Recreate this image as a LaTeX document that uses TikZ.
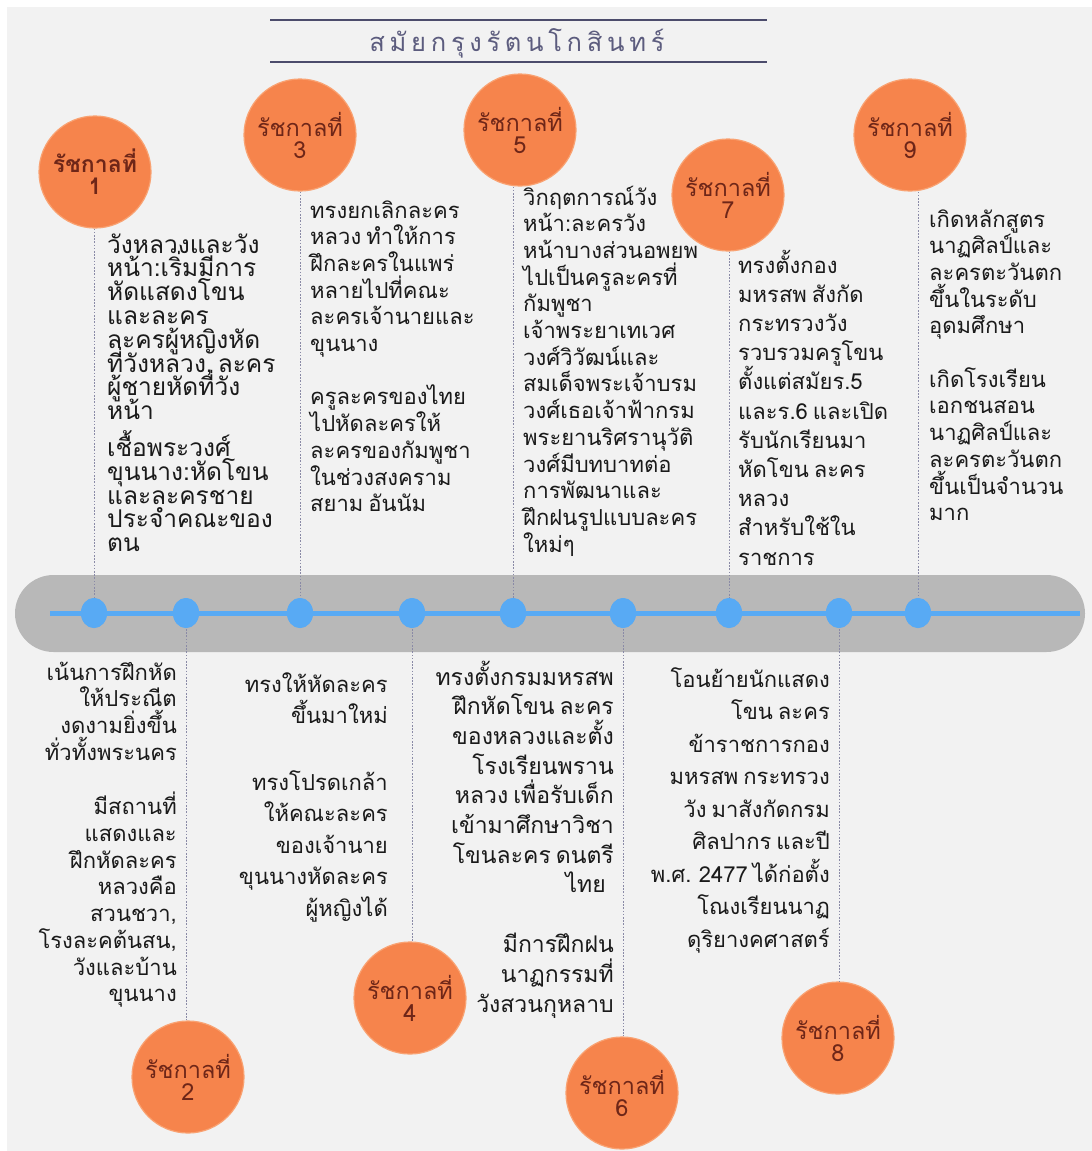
\documentclass[tikz,border=0pt]{standalone}
\usepackage{fontspec}
\newfontfamily\thaifont[Script=Thai]{Loma}
\usetikzlibrary{shapes.geometric}

\definecolor{pagebg}{HTML}{F2F2F2}
\definecolor{titleink}{HTML}{5C5C7E}
\definecolor{rulecol}{HTML}{4C4C6C}
\definecolor{barcol}{HTML}{B8B8B8}
\definecolor{linecol}{HTML}{58AAF4}
\definecolor{reignfill}{HTML}{F6844C}
\definecolor{reignedge}{HTML}{F9A272}
\definecolor{reignink}{HTML}{6E2618}
\definecolor{guidecol}{HTML}{8A8AA6}
\definecolor{bodyink}{HTML}{1A1A1A}

% stacked lines with a fixed baseline distance and narrow word spaces;
% the box baseline is the first line
\newcommand\leftlines[2]{\vtop{\baselineskip=#1\lineskiplimit=-100pt\lineskip=0pt
  \spaceskip=5pt plus 1pt\relax\halign{##\hfil\cr#2\crcr}}}
\newcommand\rightlines[2]{\vtop{\baselineskip=#1\lineskiplimit=-100pt\lineskip=0pt
  \spaceskip=5pt plus 1pt\relax\halign{\hfil##\cr#2\crcr}}}
\newcommand\pgap[1]{\noalign{\vskip#1}}
\newcommand\tsp{\hskip 4.7pt}

\tikzset{
  reign/.style={circle, fill=reignfill, draw=reignedge, line width=1.2pt,
    minimum size=112pt, inner sep=0pt, text=reignink, align=center,
    font=\thaifont\fontsize{23.5}{22}\selectfont},
  tdot/.style={ellipse, fill=linecol, minimum width=26pt, minimum height=30pt, inner sep=0pt},
  guide/.style={draw=guidecol, line width=0.9pt, dash pattern=on 1.6pt off 1.6pt},
  note/.style={inner sep=0pt, text=bodyink, font=\thaifont\fontsize{22}{26}\selectfont},
  bignote/.style={inner sep=0pt, text=bodyink, font=\thaifont\fontsize{24.5}{26}\selectfont},
  midnote/.style={inner sep=0pt, text=bodyink, font=\thaifont\fontsize{23}{26}\selectfont},
  rulestyle/.style={draw=rulecol, line width=2pt},
}

\begin{document}
\begin{tikzpicture}[x=1pt,y=-1pt]
  % page
  \fill[white] (0,0) rectangle (1092,1151);
  \fill[pagebg] (7,7) rectangle (1092,1151);
  \useasboundingbox (0,0) rectangle (1092,1151);

  % heading between two rules
  \draw[rulestyle] (270,20) -- (767,20);
  \draw[rulestyle] (270,62) -- (767,62);
  \node[inner sep=0pt, text=titleink, font=\thaifont\fontsize{25.5}{30}\selectfont, anchor=base]
    (title) at (517,51) {ส\tsp มั\tsp ย\tsp ก\tsp รุ\tsp ง\tsp รั\tsp ต\tsp น\tsp โ\tsp ก\tsp สิ\tsp น\tsp ท\tsp ร์};

  % time line bar
  \fill[barcol, rounded corners=38.5pt] (15,575) rectangle (1085,652);
  \coordinate (tlstart) at (50,613);
  \coordinate (tlend) at (1080,613);
  \draw[linecol, line width=5pt] (tlstart) -- (tlend);

  % stops on the time line
  \node[tdot] (d1) at (94,613) {};
  \node[tdot] (d2) at (186,613) {};
  \node[tdot] (d3) at (300,613) {};
  \node[tdot] (d4) at (412,613) {};
  \node[tdot] (d5) at (513,613) {};
  \node[tdot] (d6) at (623,613) {};
  \node[tdot] (d7) at (729,613) {};
  \node[tdot] (d8) at (839,613) {};
  \node[tdot] (d9) at (918,613) {};

  % reign badges
  \node[reign, font=\thaifont\bfseries\fontsize{23}{22}\selectfont] (r1) at (95,172) {รัชกาลที่\\1};
  \node[reign] (r3) at (300,135) {รัชกาลที่\\3};
  \node[reign] (r5) at (520,130) {รัชกาลที่\\5};
  \node[reign] (r7) at (728,195) {รัชกาลที่\\7};
  \node[reign] (r9) at (910,135) {รัชกาลที่\\9};
  \node[reign] (r2) at (188,1077) {รัชกาลที่\\2};
  \node[reign] (r4) at (410,998) {รัชกาลที่\\4};
  \node[reign] (r6) at (622,1093) {รัชกาลที่\\6};
  \node[reign] (r8) at (838,1038) {รัชกาลที่\\8};

  % dotted leaders from badges to stops
  \foreach \k in {1,3,5,7,9}{
    \draw[guide] (d\k |- r\k.south) -- (d\k.center);
  }
  \foreach \k in {2,4,6,8}{
    \draw[guide] (d\k.center) -- (d\k |- r\k.north);
  }
  % stops drawn again over the leaders
  \foreach \k/\x in {1/94,2/186,3/300,4/412,5/513,6/623,7/729,8/839,9/918}{
    \fill[linecol] (\x,613) ellipse (13pt and 15pt);
  }

  % notes above the line
  \node[bignote, anchor=base west] (n1) at (107,253) {\leftlines{23.8pt}{%
    วังหลวงและวัง\cr หน้า:เริ่มมีการ\cr หัดแสดงโขน\cr และละคร\cr ละครผู้หญิงหัด\cr
    ที่วังหลวง, ละคร\cr ผู้ชายหัดที่วัง\cr หน้า\cr \pgap{13pt}
    เชื้อพระวงศ์\cr ขุนนาง:หัดโขน\cr และละครชาย\cr ประจำคณะของ\cr ตน}};
  \node[note, anchor=base west] (n3) at (310,218) {\leftlines{26.7pt}{%
    ทรงยกเลิกละคร\cr หลวง ทำให้การ\cr ฝึกละครในแพร่\cr หลายไปที่คณะ\cr ละครเจ้านายและ\cr
    ขุนนาง\cr \pgap{26.7pt}
    ครูละครของไทย\cr ไปหัดละครให้\cr ละครของกัมพูชา\cr ในช่วงสงคราม\cr สยาม อันนัม}};
  \node[note, anchor=base west] (n5) at (523,205) {\leftlines{26.7pt}{%
    วิกฤตการณ์วัง\cr หน้า:ละครวัง\cr หน้าบางส่วนอพยพ\cr ไปเป็นครูละครที่\cr กัมพูชา\cr
    เจ้าพระยาเทเวศ\cr วงศ์วิวัฒน์และ\cr สมเด็จพระเจ้าบรม\cr วงศ์เธอเจ้าฟ้ากรม\cr
    พระยานริศรานุวัติ\cr วงศ์มีบทบาทต่อ\cr การพัฒนาและ\cr ฝึกฝนรูปแบบละคร\cr ใหม่ๆ}};
  \node[note, anchor=base west] (n7) at (738,273) {\leftlines{29.2pt}{%
    ทรงตั้งกอง\cr มหรสพ สังกัด\cr กระทรวงวัง\cr รวบรวมครูโขน\cr ตั้งแต่สมัยร.5\cr
    และร.6 และเปิด\cr รับนักเรียนมา\cr หัดโขน ละคร\cr หลวง\cr สำหรับใช้ใน\cr ราชการ}};
  \node[note, anchor=base west] (n9) at (929,227) {\leftlines{26.7pt}{%
    เกิดหลักสูตร\cr นาฏศิลป์และ\cr ละครตะวันตก\cr ขึ้นในระดับ\cr อุดมศึกษา\cr \pgap{26.7pt}
    เกิดโรงเรียน\cr เอกชนสอน\cr นาฏศิลป์และ\cr ละครตะวันตก\cr ขึ้นเป็นจำนวน\cr มาก}};

  % notes below the line
  \node[note, anchor=base east] (n2) at (177,680) {\rightlines{26.7pt}{%
    เน้นการฝึกหัด\cr ให้ประณีต\cr งดงามยิ่งขึ้น\cr ทั่วทั้งพระนคร\cr \pgap{28pt}
    มีสถานที่\cr แสดงและ\cr ฝึกหัดละคร\cr หลวงคือ\cr สวนชวา,\cr โรงละคต้นสน,\cr
    วังและบ้าน\cr ขุนนาง}};
  \node[note, anchor=base east] (n4) at (388,692) {\rightlines{31.5pt}{%
    ทรงให้หัดละคร\cr ขึ้นมาใหม่\cr \pgap{35pt}
    ทรงโปรดเกล้า\cr ให้คณะละคร\cr ของเจ้านาย\cr ขุนนางหัดละคร\cr ผู้หญิงได้}};
  \node[midnote, anchor=base east] (n6) at (614,685) {\rightlines{29.7pt}{%
    ทรงตั้งกรมมหรสพ\cr ฝึกหัดโขน ละคร\cr ของหลวงและตั้ง\cr โรงเรียนพราน\cr
    หลวง เพื่อรับเด็ก\cr เข้ามาศึกษาวิชา\cr โขนละคร ดนตรี\cr ไทย\hskip 8pt\cr \pgap{30pt}
    มีการฝึกฝน\cr นาฏกรรมที่\cr วังสวนกุหลาบ}};
  \node[note, anchor=base east] (n8) at (830,687) {\rightlines{32.5pt}{%
    โอนย้ายนักแสดง\cr โขน ละคร\cr ข้าราชการกอง\cr มหรสพ กระทรวง\cr วัง มาสังกัดกรม\cr
    ศิลปากร และปี\cr พ.ศ. 2477 ได้ก่อตั้ง\cr โณงเรียนนาฏ\cr ดุริยางคศาสตร์}};
\end{tikzpicture}
\end{document}
